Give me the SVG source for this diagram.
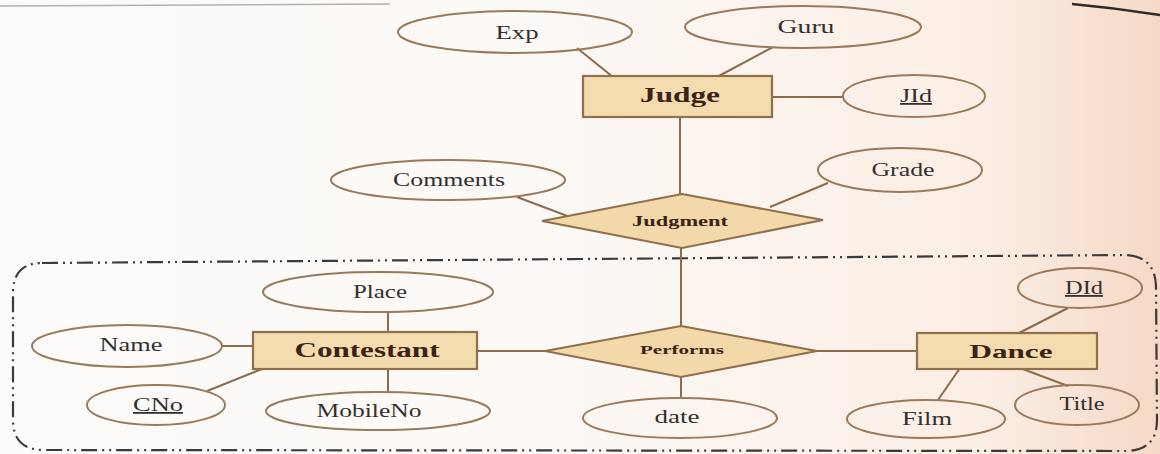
<svg xmlns="http://www.w3.org/2000/svg" width="1160" height="454" viewBox="0 0 1160 454">
  <defs>
    <linearGradient id="paper" x1="0" y1="0" x2="1" y2="0">
      <stop offset="0" stop-color="#fcfbfa"/>
      <stop offset="0.5" stop-color="#fcf8f5"/>
      <stop offset="0.85" stop-color="#fbeee4"/>
      <stop offset="1" stop-color="#f5d9c6"/>
    </linearGradient>
    <style>
      .attr { fill: none; stroke: #9a7a5a; stroke-width: 2; }
      .ent { fill: #f3dcae; stroke: #8f6f4c; stroke-width: 2.2; }
      .rel { fill: #f3d9aa; stroke: #8f6f4c; stroke-width: 2; }
      .conn line { stroke: #8c6c4d; stroke-width: 2; }
      .lbl { font-family: "Liberation Serif", "DejaVu Serif", serif; font-size: 18px; fill: #353030; text-anchor: middle; }
      .key { text-decoration: underline; }
      .ename { font-family: "Liberation Serif", "DejaVu Serif", serif; font-weight: bold; fill: #3a2317; text-anchor: middle; }
      .group { fill: none; stroke: #3a3a3a; stroke-width: 2.2; stroke-dasharray: 16 5 2 5 2 5; }
    </style>
  </defs>

  <!-- paper -->
  <rect x="0" y="0" width="1160" height="454" fill="url(#paper)"/>
  <line x1="0" y1="6" x2="390" y2="4" stroke="#9a9292" stroke-width="1.5" opacity="0.7"/>
  <path d="M1072,4 Q1116,8 1160,15" fill="none" stroke="#2e2a2a" stroke-width="2.5"/>

  <!-- aggregation boundary -->
  <path class="group" d="M42,263 L1125,255 Q1155,256 1156,286 L1157,420 Q1157,450 1127,451 L44,450 Q13,450 13,420 L13,293 Q13,263 42,263 Z"/>

  <!-- connectors -->
  <g id="connectors" class="conn">
    <line x1="577" y1="48" x2="613" y2="77"/>
    <line x1="773" y1="47" x2="717" y2="77"/>
    <line x1="772" y1="97" x2="843" y2="97"/>
    <line x1="680" y1="117" x2="680" y2="194"/>
    <line x1="517" y1="197" x2="570" y2="217"/>
    <line x1="828" y1="183" x2="770" y2="207"/>
    <line x1="681" y1="248" x2="681" y2="326"/>
    <line x1="477" y1="351" x2="545" y2="351"/>
    <line x1="817" y1="351" x2="917" y2="351"/>
    <line x1="681" y1="377" x2="681" y2="399"/>
    <line x1="222" y1="346" x2="253" y2="346"/>
    <line x1="207" y1="391" x2="262" y2="369"/>
    <line x1="388" y1="312" x2="388" y2="332"/>
    <line x1="388" y1="369" x2="388" y2="392"/>
    <line x1="1068" y1="308" x2="1017" y2="334"/>
    <line x1="938" y1="400" x2="960" y2="368"/>
    <line x1="1068" y1="386" x2="1020" y2="368"/>
  </g>

  <!-- Judge entity and its attributes -->
  <g id="judge">
    <rect class="ent" x="583" y="76" width="189" height="41"/>
    <text class="ename" x="680" y="102" font-size="21" textLength="80" lengthAdjust="spacingAndGlyphs">Judge</text>
  </g>
  <g id="exp">
    <ellipse class="attr" cx="515" cy="32" rx="117" ry="21"/>
    <text class="lbl" x="517" y="39" font-size="19" textLength="43" lengthAdjust="spacingAndGlyphs">Exp</text>
  </g>
  <g id="guru">
    <ellipse class="attr" cx="803" cy="27" rx="118" ry="21"/>
    <text class="lbl" x="806" y="33" font-size="19" textLength="57" lengthAdjust="spacingAndGlyphs">Guru</text>
  </g>
  <g id="jid">
    <ellipse class="attr" cx="914" cy="96" rx="71" ry="21"/>
    <text class="lbl key" x="916" y="102" textLength="32" lengthAdjust="spacingAndGlyphs">JId</text>
  </g>

  <!-- Judgment relationship -->
  <g id="judgment">
    <polygon class="rel" points="542,221 682,194 823,220 682,248"/>
    <text class="ename" x="680" y="226" font-size="14" textLength="96" lengthAdjust="spacingAndGlyphs">Judgment</text>
  </g>
  <g id="comments">
    <ellipse class="attr" cx="448" cy="180" rx="117" ry="20"/>
    <text class="lbl" x="449" y="186" textLength="112" lengthAdjust="spacingAndGlyphs">Comments</text>
  </g>
  <g id="grade">
    <ellipse class="attr" cx="900" cy="170" rx="82" ry="22"/>
    <text class="lbl" x="903" y="176" textLength="63" lengthAdjust="spacingAndGlyphs">Grade</text>
  </g>

  <!-- Contestant entity and its attributes -->
  <g id="contestant">
    <rect class="ent" x="253" y="332" width="224" height="37"/>
    <text class="ename" x="367" y="357" font-size="20" textLength="145" lengthAdjust="spacingAndGlyphs">Contestant</text>
  </g>
  <g id="place">
    <ellipse class="attr" cx="378" cy="292" rx="115" ry="20"/>
    <text class="lbl" x="380" y="298" textLength="54" lengthAdjust="spacingAndGlyphs">Place</text>
  </g>
  <g id="name">
    <ellipse class="attr" cx="127" cy="346" rx="95" ry="21"/>
    <text class="lbl" x="131" y="351" textLength="63" lengthAdjust="spacingAndGlyphs">Name</text>
  </g>
  <g id="cno">
    <ellipse class="attr" cx="156" cy="405" rx="69" ry="20"/>
    <text class="lbl key" x="158" y="411" textLength="50" lengthAdjust="spacingAndGlyphs">CNo</text>
  </g>
  <g id="mobileno">
    <ellipse class="attr" cx="378" cy="411" rx="112" ry="19"/>
    <text class="lbl" x="369" y="417" textLength="105" lengthAdjust="spacingAndGlyphs">MobileNo</text>
  </g>

  <!-- Performs relationship -->
  <g id="performs">
    <polygon class="rel" points="545,351 681,326 817,351 681,377"/>
    <text class="ename" x="682" y="354" font-size="13" textLength="84" lengthAdjust="spacingAndGlyphs">Performs</text>
  </g>
  <g id="date">
    <ellipse class="attr" cx="680" cy="418" rx="97" ry="20"/>
    <text class="lbl" x="677" y="423" textLength="45" lengthAdjust="spacingAndGlyphs">date</text>
  </g>

  <!-- Dance entity and its attributes -->
  <g id="dance">
    <rect class="ent" x="917" y="333" width="180" height="36"/>
    <text class="ename" x="1011" y="358" font-size="19" textLength="83" lengthAdjust="spacingAndGlyphs">Dance</text>
  </g>
  <g id="did">
    <ellipse class="attr" cx="1080" cy="288" rx="62" ry="20"/>
    <text class="lbl key" x="1084" y="294" textLength="38" lengthAdjust="spacingAndGlyphs">DId</text>
  </g>
  <g id="film">
    <ellipse class="attr" cx="926" cy="419" rx="79" ry="19"/>
    <text class="lbl" x="927" y="425" textLength="50" lengthAdjust="spacingAndGlyphs">Film</text>
  </g>
  <g id="title">
    <ellipse class="attr" cx="1077" cy="405" rx="62" ry="20"/>
    <text class="lbl" x="1082" y="410" textLength="45" lengthAdjust="spacingAndGlyphs">Title</text>
  </g>
</svg>
